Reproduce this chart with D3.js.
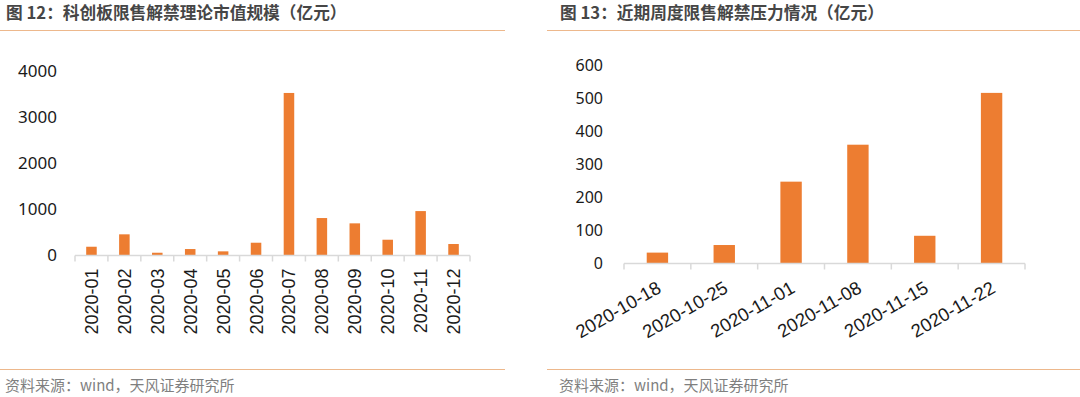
<!DOCTYPE html>
<html>
<head>
<meta charset="utf-8">
<script src="https://cdn.jsdelivr.net/npm/d3@7"></script>
<style>
  body { margin: 0; background: #fff; }
  svg { display: block; }
</style>
</head>
<body>
<div id="chart"></div>
<script>
// left chart: monthly unlock value (亿元)
const months = ["2020-01", "2020-02", "2020-03", "2020-04", "2020-05", "2020-06",
                "2020-07", "2020-08", "2020-09", "2020-10", "2020-11", "2020-12"];
const monthValues = [190, 459, 60, 140, 90, 277, 3524, 812, 697, 342, 963, 249];
const leftTicks = [0, 1000, 2000, 3000, 4000];

// right chart: weekly unlock pressure (亿元)
const weeks = ["2020-10-18", "2020-10-25", "2020-11-01", "2020-11-08", "2020-11-15", "2020-11-22"];
const weekValues = [33, 56, 248, 360, 84, 517];
const rightTicks = [0, 100, 200, 300, 400, 500, 600];

const titles = ["图 12：科创板限售解禁理论市值规模（亿元）", "图 13：近期周度限售解禁压力情况（亿元）"];
const sourceText = "资料来源：wind，天风证券研究所";

const W = 1080, H = 397;
const orange = "#ED7D31";
const ruleColor = "#EDB88C";
const axisColor = "#D9D9D9";

const svg = d3.select("#chart").append("svg")
  .attr("width", W)
  .attr("height", H);

// headers / footers
function frame(x0, x1, tx, title) {
  svg.append("line")
    .attr("x1", x0).attr("x2", x1)
    .attr("y1", 30.5).attr("y2", 30.5)
    .attr("stroke", ruleColor).attr("stroke-width", 1);
  svg.append("line")
    .attr("x1", x0).attr("x2", x1)
    .attr("y1", 369.5).attr("y2", 369.5)
    .attr("stroke", ruleColor).attr("stroke-width", 1);
  svg.append("text")
    .attr("x", tx).attr("y", 19)
    .attr("font-family", "'Noto Sans CJK SC', sans-serif")
    .attr("font-size", 16.7)
    .attr("font-weight", "bold")
    .attr("fill", "#464646")
    .text(title);
  svg.append("text")
    .attr("x", tx - 1).attr("y", 391)
    .attr("font-family", "'Noto Sans CJK SC', sans-serif")
    .attr("font-size", 15)
    .attr("fill", "#7F7F7F")
    .text(sourceText);
}
frame(0, 505, 6, titles[0]);
frame(547, 1080, 560, titles[1]);

function barChart(opt) {
  const x = d3.scaleBand()
    .domain(opt.cats)
    .range([opt.x0, opt.x1])
    .paddingInner(0.68)
    .paddingOuter(0.34);
  const y = d3.scaleLinear()
    .domain([0, opt.max])
    .range([opt.y0, opt.yTop]);
  const g = svg.append("g");

  // y labels
  g.selectAll("text.ytick")
    .data(opt.ticks)
    .enter().append("text")
    .attr("class", "ytick")
    .attr("x", opt.labelX)
    .attr("y", d => y(d))
    .attr("dy", "0.35em")
    .attr("text-anchor", "end")
    .attr("font-family", "'Noto Sans', sans-serif")
    .attr("font-size", opt.yFont)
    .attr("fill", "#1a1a1a")
    .text(d => d);

  // bars
  g.selectAll("rect")
    .data(opt.values)
    .enter().append("rect")
    .attr("x", (d, i) => x(opt.cats[i]))
    .attr("width", x.bandwidth())
    .attr("y", d => y(d))
    .attr("height", d => y(0) - y(d))
    .attr("fill", orange);

  // axis line and ticks between categories
  const step = x.step();
  g.append("line")
    .attr("x1", opt.x0).attr("x2", opt.x1)
    .attr("y1", y(0)).attr("y2", y(0))
    .attr("stroke", axisColor).attr("stroke-width", 1.5);
  g.selectAll("line.tick")
    .data(d3.range(opt.cats.length + 1))
    .enter().append("line")
    .attr("class", "tick")
    .attr("x1", i => opt.x0 + i * step)
    .attr("x2", i => opt.x0 + i * step)
    .attr("y1", y(0)).attr("y2", y(0) + 6)
    .attr("stroke", axisColor).attr("stroke-width", 1.5);

  // category labels
  g.selectAll("text.xlab")
    .data(opt.cats)
    .enter().append("text")
    .attr("class", "xlab")
    .attr("transform", d => {
      const cx = x(d) + x.bandwidth() / 2;
      return "translate(" + (cx + opt.lx) + "," + (y(0) + opt.ly) + ") rotate(" + opt.rot + ")";
    })
    .attr("text-anchor", "end")
    .attr("font-family", "'Liberation Sans', Arial, sans-serif")
    .attr("font-size", opt.xFont)
    .attr("fill", "#1a1a1a")
    .text(d => d);
}

barChart({
  cats: months, values: monthValues, ticks: leftTicks, max: 4000,
  x0: 75, x1: 470, y0: 255.5, yTop: 71,
  labelX: 57, yFont: 17, xFont: 18,
  lx: 6.5, ly: 13, rot: -90
});

barChart({
  cats: weeks, values: weekValues, ticks: rightTicks, max: 600,
  x0: 624, x1: 1025, y0: 263.5, yTop: 65.5,
  labelX: 603, yFont: 16, xFont: 18.5,
  lx: 5, ly: 28, rot: -30
});
</script>
</body>
</html>
